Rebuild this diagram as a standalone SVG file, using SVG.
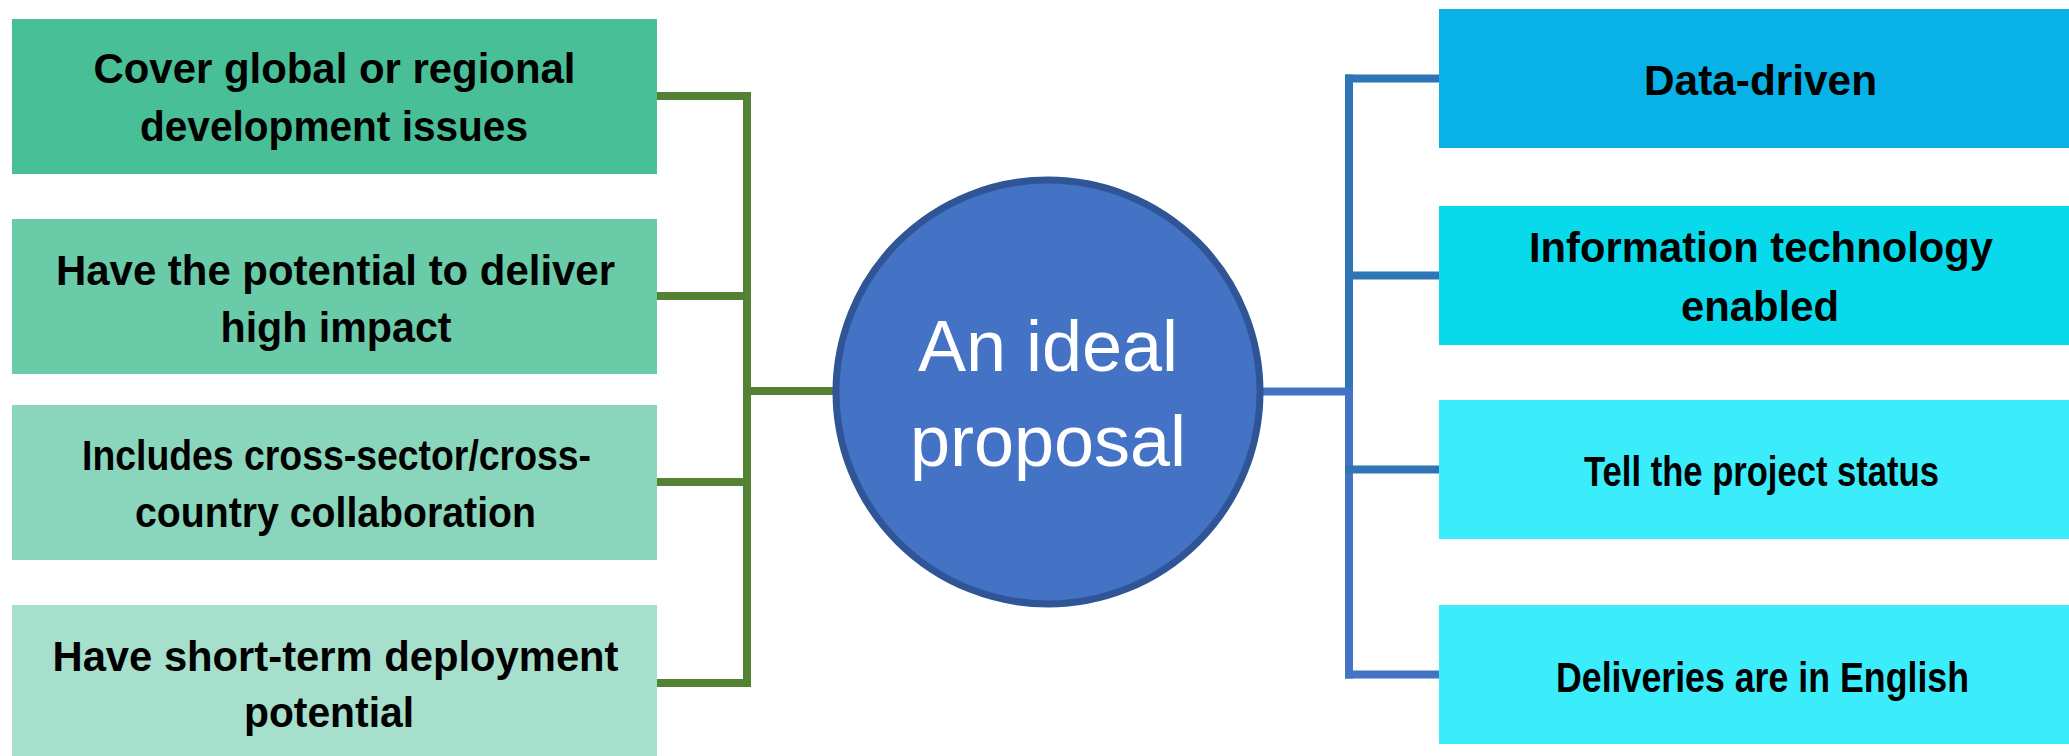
<svg xmlns="http://www.w3.org/2000/svg" width="2069" height="756" viewBox="0 0 2069 756">
<style>
.t{font-family:"Liberation Sans","Noto Sans",sans-serif;font-weight:bold;font-size:42px;fill:#000;text-anchor:middle}
.c{font-family:"Liberation Sans","Noto Sans",sans-serif;font-size:72px;fill:#fff;text-anchor:middle}
.g{stroke:#548235;fill:none;stroke-width:8}
.b1{stroke:#2E75B6;fill:none;stroke-width:8}
.b2{stroke:#4472C4;fill:none;stroke-width:8}
</style>
<rect width="2069" height="756" fill="#fff"/>
<g id="connectors">
  <path class="g" d="M747,92 V687"/>
  <path class="g" d="M657,96 H751 M657,296 H751 M657,482 H751 M657,683 H751 M743,391 H836"/>
  <path class="b1" d="M1349,74.5 V391"/>
  <path class="b2" d="M1349,391 V678.5"/>
  <path class="b1" d="M1345,78.5 H1439 M1345,275.5 H1439 M1345,469.5 H1439"/>
  <path class="b2" d="M1345,674.5 H1439 M1261,391.5 H1353"/>
</g>
<g id="center">
  <circle cx="1048" cy="392" r="212" fill="#4472C4" stroke="#2F5597" stroke-width="7"/>
  <text class="c" x="1048" y="371">An ideal</text>
  <text class="c" x="1048" y="466">proposal</text>
</g>
<g id="l1">
  <rect x="12" y="19" width="645" height="155" fill="#48BF96"/>
  <text class="t" x="334.5" y="83" textLength="482" lengthAdjust="spacingAndGlyphs">Cover global or regional</text>
  <text class="t" x="334" y="141" textLength="388" lengthAdjust="spacingAndGlyphs">development issues</text>
</g>
<g id="l2">
  <rect x="12" y="219" width="645" height="155" fill="#69CBA8"/>
  <text class="t" x="335.5" y="285" textLength="559" lengthAdjust="spacingAndGlyphs">Have the potential to deliver</text>
  <text class="t" x="336" y="342" textLength="231" lengthAdjust="spacingAndGlyphs">high impact</text>
</g>
<g id="l3">
  <rect x="12" y="405" width="645" height="155" fill="#8AD6BC"/>
  <text class="t" x="336.5" y="470" textLength="509" lengthAdjust="spacingAndGlyphs">Includes cross-sector/cross-</text>
  <text class="t" x="335.5" y="527" textLength="401" lengthAdjust="spacingAndGlyphs">country collaboration</text>
</g>
<g id="l4">
  <rect x="12" y="605" width="645" height="155" fill="#A6DFCC"/>
  <text class="t" x="335.5" y="671" textLength="566" lengthAdjust="spacingAndGlyphs">Have short-term deployment</text>
  <text class="t" x="329" y="727" textLength="170" lengthAdjust="spacingAndGlyphs">potential</text>
</g>
<g id="r1">
  <rect x="1439" y="9" width="630" height="139" fill="#08B2E6"/>
  <text class="t" x="1760.5" y="95" textLength="233" lengthAdjust="spacingAndGlyphs">Data-driven</text>
</g>
<g id="r2">
  <rect x="1439" y="206" width="630" height="139" fill="#08DAEC"/>
  <text class="t" x="1761" y="262" textLength="464" lengthAdjust="spacingAndGlyphs">Information technology</text>
  <text class="t" x="1760" y="321" textLength="158" lengthAdjust="spacingAndGlyphs">enabled</text>
</g>
<g id="r3">
  <rect x="1439" y="400" width="630" height="139" fill="#3BECFA"/>
  <text class="t" x="1761.5" y="486" textLength="355" lengthAdjust="spacingAndGlyphs">Tell the project status</text>
</g>
<g id="r4">
  <rect x="1439" y="605" width="630" height="139" fill="#3BECFA"/>
  <text class="t" x="1762.5" y="692" textLength="413" lengthAdjust="spacingAndGlyphs">Deliveries are in English</text>
</g>
</svg>
